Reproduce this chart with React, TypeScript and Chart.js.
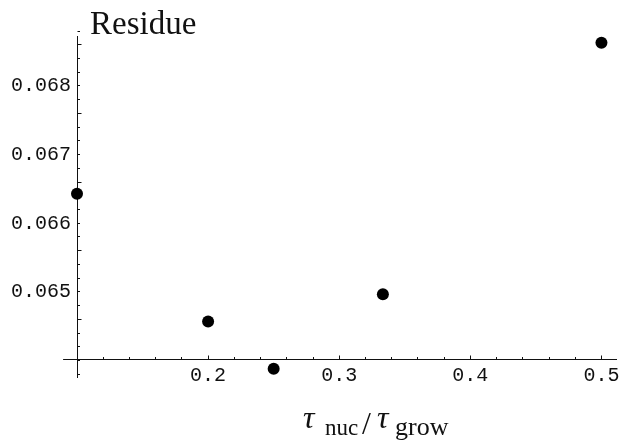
import React, { useEffect, useRef } from "react";
import { Chart, registerables } from "chart.js";

Chart.register(...registerables);

// ---- data ----
const ratios = [0.1, 0.2, 0.25, 0.3333, 0.5];
const residues = [0.06643, 0.064568, 0.063879, 0.064967, 0.06863];

const xTickValues = [0.2, 0.3, 0.4, 0.5];
const xTickLabels = ["0.2", "0.3", "0.4", "0.5"];
const yTickValues = [0.065, 0.066, 0.067, 0.068];
const yTickLabels = ["0.065", "0.066", "0.067", "0.068"];

const xRange = [0.1, 0.5111];
const yRange = [0.06376, 0.068728];
const xAxisCross = 0.06402; // y value where the x axis is drawn
const xAxisLineStart = 0.0894; // x axis line extends left of the y axis
const xMinorStep = 0.02;
const yMinorStart = 0.0638;
const yMinorStep = 0.0002;

const titleText = "Residue";

const AXIS_COLOR = "#111";
const TEXT_COLOR = "#111";
const MONO = '"Liberation Mono", "DejaVu Sans Mono", monospace';
const SERIF = '"Liberation Serif", "DejaVu Serif", serif';

const decorPlugin = {
  id: "decor",
  beforeDatasetsDraw(chart: any) {
    const { ctx, chartArea, scales } = chart;
    const xs = scales.x;
    const ys = scales.y;
    const axX = Math.round(chartArea.left - 0.5) + 0.5;
    const axY = Math.round(ys.getPixelForValue(xAxisCross) - 0.5) + 0.5;
    ctx.save();
    ctx.strokeStyle = AXIS_COLOR;
    ctx.lineWidth = 1;
    // x axis extension to the left of the y axis
    ctx.beginPath();
    ctx.moveTo(xs.getPixelForValue(xAxisLineStart), axY);
    ctx.lineTo(axX, axY);
    ctx.stroke();
    // x ticks (inward, upward)
    ctx.beginPath();
    const nx = Math.round((xRange[1] - xRange[0]) / xMinorStep);
    for (let i = 1; i <= nx; i++) {
      const v = xRange[0] + i * xMinorStep;
      const major = i % 5 === 0;
      const px = Math.round(xs.getPixelForValue(v) - 0.5) + 0.5;
      ctx.moveTo(px, axY);
      ctx.lineTo(px, axY - (major ? 4 : 2.5));
    }
    ctx.stroke();
    // y ticks (inward, rightward)
    ctx.beginPath();
    const ny = Math.round((yRange[1] - yMinorStart) / yMinorStep);
    for (let i = 0; i <= ny; i++) {
      const v = yMinorStart + i * yMinorStep;
      const major = (i + 1) % 5 === 0;
      const py = Math.round(ys.getPixelForValue(v) - 0.5) + 0.5;
      ctx.moveTo(axX, py);
      ctx.lineTo(axX + (major ? 4 : 2.5), py);
    }
    ctx.stroke();
    ctx.restore();
  },
  afterDraw(chart: any) {
    const { ctx, chartArea } = chart;
    ctx.save();
    ctx.fillStyle = TEXT_COLOR;
    ctx.textBaseline = "alphabetic";
    ctx.textAlign = "left";
    // title
    ctx.font = `33px ${SERIF}`;
    ctx.fillText(titleText, chartArea.left + 13, 34);
    // x axis label: tau_nuc / tau_grow
    const parts = [
      { t: "\u03c4", font: `italic 32px ${SERIF}`, x: 303, base: 428 },
      { t: "nuc", font: `23px ${SERIF}`, x: 325, base: 435 },
      { t: "/", font: `32px ${SERIF}`, x: 362, base: 434 },
      { t: "\u03c4", font: `italic 32px ${SERIF}`, x: 377, base: 428 },
      { t: "grow", font: `26px ${SERIF}`, x: 395, base: 435 },
    ];
    for (const p of parts) {
      ctx.font = p.font;
      ctx.fillText(p.t, p.x, p.base);
    }
    ctx.restore();
  },
};

export default function App() {
  const canvasRef = useRef<HTMLCanvasElement | null>(null);

  useEffect(() => {
    const canvas = canvasRef.current;
    if (!canvas) return;
    const chart = new Chart(canvas, {
      type: "scatter",
      data: {
        datasets: [
          {
            data: ratios.map((x, i) => ({ x, y: residues[i] })),
            pointRadius: 6,
            pointHoverRadius: 6,
            backgroundColor: "#000",
            borderColor: "#000",
            borderWidth: 0,
            clip: false,
          } as any,
        ],
      },
      options: {
        animation: false,
        responsive: false,
        maintainAspectRatio: false,
        devicePixelRatio: 1,
        layout: { padding: { top: 36, right: 4, left: 0, bottom: 65 } },
        plugins: {
          legend: { display: false },
          tooltip: { enabled: false },
          title: { display: false },
        },
        scales: {
          x: {
            type: "linear",
            position: { y: xAxisCross },
            min: xRange[0],
            max: xRange[1],
            afterBuildTicks: (s: any) => {
              s.ticks = xTickValues.map((v) => ({ value: v }));
            },
            afterFit: (s: any) => {
              s.height = 0;
              s.paddingLeft = 0;
              s.paddingRight = 0;
            },
            ticks: {
              autoSkip: false,
              maxRotation: 0,
              padding: 5,
              color: TEXT_COLOR,
              font: { family: MONO, size: 20 },
              callback: (_v: any, i: number) => xTickLabels[i],
            },
            grid: { display: false, drawTicks: false },
            border: { display: true, color: AXIS_COLOR, width: 1 },
          },
          y: {
            type: "linear",
            position: "left",
            min: yRange[0],
            max: yRange[1],
            afterBuildTicks: (s: any) => {
              s.ticks = yTickValues.map((v) => ({ value: v }));
            },
            afterFit: (s: any) => {
              s.width = 77;
              s.paddingTop = 0;
              s.paddingBottom = 0;
            },
            ticks: {
              autoSkip: false,
              padding: 6,
              color: TEXT_COLOR,
              font: { family: MONO, size: 20 },
              callback: (_v: any, i: number) => yTickLabels[i],
            },
            grid: { display: false, drawTicks: false },
            border: { display: true, color: AXIS_COLOR, width: 1 },
          },
        },
      } as any,
      plugins: [decorPlugin],
    });
    return () => chart.destroy();
  }, []);

  return (
    <div style={{ position: "fixed", left: 0, top: 0, width: 622, height: 442, background: "#fff" }}>
      <canvas ref={canvasRef} width={622} height={442} style={{ width: 622, height: 442, display: "block" }} />
    </div>
  );
}
